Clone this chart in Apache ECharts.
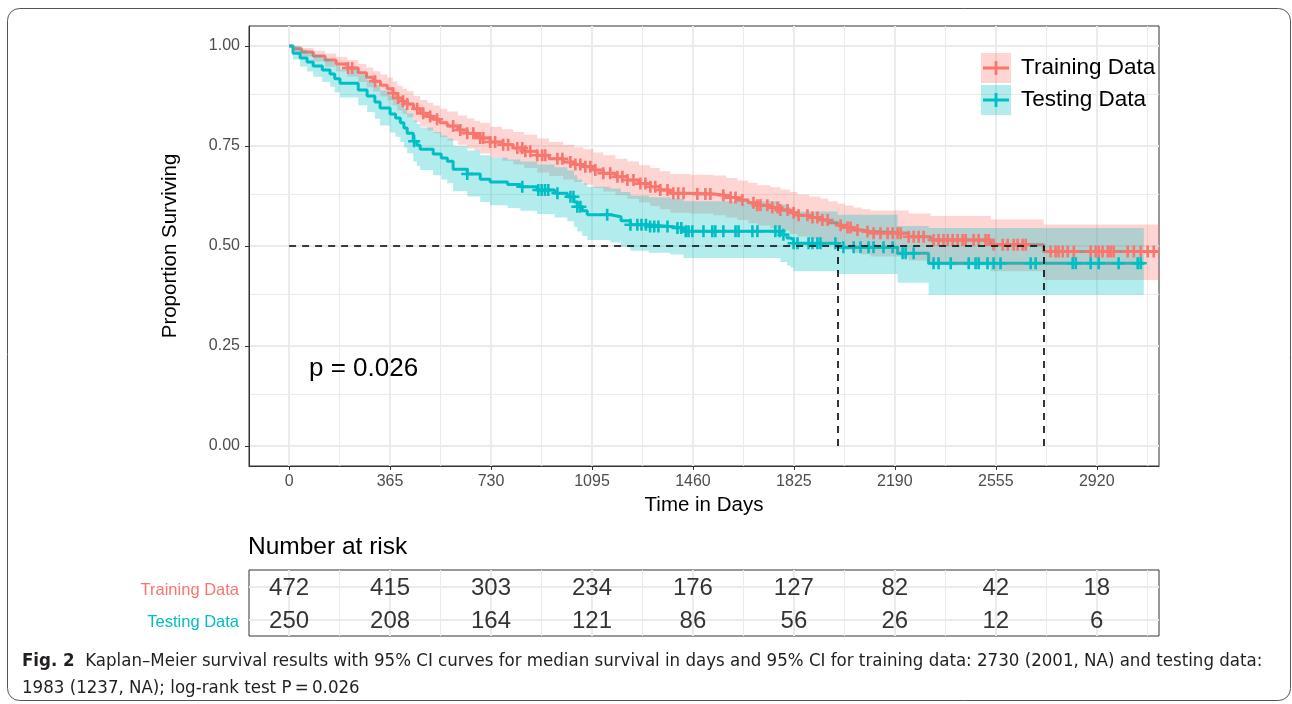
<!DOCTYPE html>
<html><head><meta charset="utf-8">
<script src="https://cdn.jsdelivr.net/npm/echarts@6/dist/echarts.min.js"></script>
<style>html,body{margin:0;padding:0;background:#fff}#c{width:1292px;height:704px}</style>
</head><body><div id="c"></div>
<script>
// ---- axis ticks ----
const xTicks = [0, 365, 730, 1095, 1460, 1825, 2190, 2555, 2920];
const xMinorTicks = [182.5, 547.5, 912.5, 1277.5, 1642.5, 2007.5, 2372.5, 2737.5, 3102.5];
const yTicks = [0, 0.25, 0.5, 0.75, 1];
const yMinorTicks = [0.125, 0.375, 0.625, 0.875];

// ---- Training Data KM curve ----
const trainTime = [0, 15, 45, 87, 130, 170, 210, 250, 280, 304, 330, 355, 375, 391, 410, 427, 450, 474, 500, 521, 545, 572, 610, 644, 670, 691, 727, 770, 810, 850, 897, 940, 991, 1030, 1064, 1100, 1136, 1180, 1223, 1265, 1306, 1340, 1378, 1450, 1534, 1580, 1621, 1660, 1693, 1740, 1776, 1810, 1838, 1880, 1921, 1950, 1983, 2010, 2041, 2070, 2102, 2240, 2319, 2536, 2728, 3145];
const trainSurv = [1.0, 0.993, 0.985, 0.975, 0.965, 0.955, 0.945, 0.933, 0.922, 0.912, 0.902, 0.893, 0.882, 0.87, 0.862, 0.855, 0.843, 0.832, 0.824, 0.817, 0.808, 0.80, 0.79, 0.782, 0.776, 0.77, 0.76, 0.753, 0.745, 0.737, 0.727, 0.718, 0.71, 0.704, 0.698, 0.69, 0.682, 0.673, 0.665, 0.656, 0.648, 0.64, 0.632, 0.63, 0.627, 0.621, 0.615, 0.608, 0.602, 0.596, 0.59, 0.583, 0.577, 0.571, 0.565, 0.558, 0.552, 0.546, 0.54, 0.536, 0.532, 0.523, 0.515, 0.503, 0.486, 0.486];
const trainUpper = [1.0, 1.0, 0.995, 0.988, 0.981, 0.973, 0.965, 0.955, 0.946, 0.937, 0.929, 0.921, 0.911, 0.900, 0.893, 0.887, 0.875, 0.865, 0.858, 0.851, 0.843, 0.836, 0.826, 0.819, 0.813, 0.808, 0.798, 0.792, 0.785, 0.778, 0.769, 0.760, 0.753, 0.747, 0.742, 0.734, 0.727, 0.718, 0.711, 0.702, 0.695, 0.687, 0.680, 0.678, 0.676, 0.670, 0.664, 0.658, 0.652, 0.647, 0.641, 0.635, 0.629, 0.624, 0.618, 0.612, 0.606, 0.601, 0.596, 0.592, 0.589, 0.581, 0.575, 0.566, 0.554, 0.554];
const trainLower = [1.0, 0.985, 0.974, 0.961, 0.948, 0.936, 0.924, 0.910, 0.897, 0.886, 0.874, 0.864, 0.852, 0.839, 0.830, 0.822, 0.810, 0.798, 0.789, 0.782, 0.772, 0.763, 0.753, 0.744, 0.738, 0.731, 0.721, 0.713, 0.704, 0.695, 0.684, 0.675, 0.666, 0.660, 0.653, 0.645, 0.636, 0.627, 0.618, 0.609, 0.600, 0.592, 0.583, 0.581, 0.577, 0.571, 0.565, 0.557, 0.551, 0.544, 0.538, 0.530, 0.524, 0.517, 0.511, 0.503, 0.497, 0.490, 0.483, 0.479, 0.474, 0.464, 0.452, 0.437, 0.415, 0.415];
const trainCensor = [213, 228, 311, 376, 394, 412, 427, 463, 485, 510, 535, 593, 619, 644, 666, 691, 702, 727, 745, 774, 792, 825, 843, 854, 872, 897, 915, 926, 970, 988, 1017, 1035, 1053, 1071, 1089, 1107, 1136, 1161, 1187, 1205, 1223, 1245, 1270, 1288, 1306, 1324, 1342, 1368, 1389, 1407, 1426, 1476, 1505, 1523, 1570, 1596, 1614, 1639, 1679, 1693, 1704, 1729, 1747, 1766, 1776, 1802, 1824, 1842, 1874, 1892, 1910, 1928, 1947, 1994, 2019, 2030, 2055, 2091, 2113, 2138, 2164, 2182, 2200, 2211, 2240, 2258, 2276, 2294, 2330, 2348, 2366, 2381, 2399, 2417, 2435, 2446, 2475, 2493, 2518, 2529, 2547, 2580, 2598, 2620, 2634, 2652, 2663, 2753, 2771, 2782, 2797, 2815, 2837, 2898, 2916, 2927, 2941, 2960, 2970, 2981, 3032, 3054, 3079, 3104, 3126];

// ---- Testing Data KM curve ----
const testTime = [0, 14, 40, 65, 87, 120, 148, 165, 184, 250, 282, 310, 329, 365, 385, 402, 415, 427, 449, 462, 474, 521, 550, 572, 593, 644, 691, 727, 790, 836, 897, 960, 1006, 1030, 1042, 1060, 1078, 1161, 1200, 1234, 1300, 1378, 1426, 1776, 1800, 1813, 1824, 1983, 2200, 2312, 3090];
const testSurv = [1.0, 0.982, 0.97, 0.96, 0.95, 0.94, 0.93, 0.918, 0.907, 0.89, 0.875, 0.86, 0.845, 0.83, 0.82, 0.808, 0.795, 0.782, 0.762, 0.752, 0.742, 0.73, 0.72, 0.712, 0.692, 0.68, 0.667, 0.66, 0.654, 0.648, 0.64, 0.632, 0.623, 0.61, 0.598, 0.588, 0.578, 0.573, 0.563, 0.553, 0.549, 0.545, 0.537, 0.528, 0.52, 0.515, 0.507, 0.497, 0.482, 0.457, 0.457];
const testUpper = [1.0, 1.0, 0.991, 0.984, 0.977, 0.969, 0.961, 0.951, 0.942, 0.928, 0.915, 0.902, 0.889, 0.876, 0.867, 0.856, 0.844, 0.832, 0.814, 0.805, 0.796, 0.785, 0.776, 0.769, 0.750, 0.739, 0.727, 0.721, 0.716, 0.711, 0.704, 0.697, 0.689, 0.677, 0.666, 0.657, 0.648, 0.644, 0.635, 0.626, 0.622, 0.619, 0.612, 0.604, 0.597, 0.593, 0.586, 0.578, 0.550, 0.545, 0.545];
const testLower = [1.0, 0.966, 0.949, 0.936, 0.923, 0.910, 0.898, 0.884, 0.871, 0.852, 0.835, 0.818, 0.801, 0.784, 0.773, 0.760, 0.746, 0.732, 0.711, 0.700, 0.690, 0.677, 0.666, 0.657, 0.637, 0.624, 0.610, 0.602, 0.595, 0.588, 0.580, 0.571, 0.562, 0.548, 0.536, 0.525, 0.515, 0.509, 0.498, 0.488, 0.483, 0.479, 0.470, 0.460, 0.451, 0.446, 0.437, 0.430, 0.408, 0.378, 0.378];
const testCensor = [452, 644, 843, 901, 913, 925, 937, 970, 1017, 1028, 1042, 1053, 1150, 1234, 1259, 1274, 1290, 1305, 1320, 1335, 1368, 1404, 1418, 1434, 1444, 1458, 1498, 1530, 1541, 1570, 1614, 1625, 1675, 1693, 1758, 1773, 1787, 1824, 1838, 1878, 1892, 1910, 1921, 1975, 2004, 2041, 2066, 2095, 2113, 2149, 2182, 2218, 2229, 2258, 2330, 2348, 2392, 2457, 2482, 2493, 2525, 2547, 2572, 2681, 2699, 2833, 2844, 2898, 2927, 2999, 3068, 3079];

// ---- medians ----
const medianTrain = 2730;
const medianTest = 1983;
const medianLevel = 0.5;

// ---- number at risk ----
const riskRows = ['Testing Data', 'Training Data'];
const riskTimes = [0, 365, 730, 1095, 1460, 1825, 2190, 2555, 2920];
const riskTrain = [472, 415, 303, 234, 176, 127, 82, 42, 18];
const riskTest = [250, 208, 164, 121, 86, 56, 26, 12, 6];

const RED = '#F8766D', TEAL = '#00BFC4';
const RED_FILL = 'rgba(248,118,109,0.3)', TEAL_FILL = 'rgba(0,191,196,0.3)';
const FONT = '"Liberation Sans", Arial, Helvetica, sans-serif';
const CAPFONT = '"Liberation Sans Narrow", "DejaVu Sans Condensed", "Liberation Sans", sans-serif';
const PLUS = 'path://M0 4.7H12V7.3H0Z M4.7 0H7.3V12H4.7Z';
const LEG_PLUS = 'path://M0 0L0.01 0L0 0.01Z M30 30L29.99 30L30 29.99Z M2 13.4H28V16.6H2Z M13.6 8H16.4V22H13.6Z';

function survAt(times, surv, t) {
  let v = surv[0];
  for (let i = 0; i < times.length; i++) { if (times[i] <= t) v = surv[i]; else break; }
  return v;
}
function zip3(a, b, c) { return a.map((v, i) => [v, b[i], c[i]]); }

function bandRender(color) {
  return function (params, api) {
    if (params.dataIndexInside !== 0) return null;
    const n = params.dataInsideLength;
    const pts = [];
    for (let j = 0; j < n - 1; j++) {
      pts.push(api.coord([api.value(0, j), api.value(2, j)]));
      pts.push(api.coord([api.value(0, j + 1), api.value(2, j)]));
    }
    for (let j = n - 2; j >= 0; j--) {
      pts.push(api.coord([api.value(0, j + 1), api.value(1, j)]));
      pts.push(api.coord([api.value(0, j), api.value(1, j)]));
    }
    return { type: 'polygon', shape: { points: pts }, style: { fill: color } };
  };
}

const majorStyle = { color: '#EBEBEB', width: 2, type: 'solid' };
const minorStyle = { color: '#EBEBEB', width: 1, type: 'solid' };
function vLines(arr, st) { return arr.map(v => ({ xAxis: v, lineStyle: st })); }
function hLines(arr, st) { return arr.map(v => ({ yAxis: v, lineStyle: st })); }

const chart = echarts.init(document.getElementById('c'), null, { renderer: 'canvas' });
const option = {
  animation: false,
  backgroundColor: '#fff',
  textStyle: { fontFamily: FONT },
  title: {
    text: 'Number at risk', left: 248, top: 535, padding: 0,
    textStyle: { fontSize: 24.5, fontWeight: 'normal', color: '#000', fontFamily: FONT }
  },
  legend: [
    {
      left: 981, top: 53, orient: 'vertical', padding: 0, itemWidth: 30, itemHeight: 30, itemGap: 2,
      selectedMode: false, z: 10,
      formatter: n => n.replace(' CI', ''),
      textStyle: { fontSize: 22.5, color: '#000', fontFamily: FONT, padding: [0, 0, 0, 5] },
      data: [
        { name: 'Training Data CI', icon: 'rect', itemStyle: { color: RED_FILL, borderWidth: 0 } },
        { name: 'Testing Data CI', icon: 'rect', itemStyle: { color: TEAL_FILL, borderWidth: 0 } }
      ]
    },
    {
      left: 981, top: 53, orient: 'vertical', padding: 0, itemWidth: 30, itemHeight: 30, itemGap: 2,
      selectedMode: false, z: 11,
      textStyle: { fontSize: 22.5, color: 'rgba(0,0,0,0)', fontFamily: FONT, padding: [0, 0, 0, 5] },
      data: [
        { name: 'Training Data', icon: LEG_PLUS, itemStyle: { color: RED, borderWidth: 0 } },
        { name: 'Testing Data', icon: LEG_PLUS, itemStyle: { color: TEAL, borderWidth: 0 } }
      ]
    }
  ],
  grid: [
    { left: 249, top: 26, width: 910, height: 440, show: true, borderColor: '#333', borderWidth: 1, backgroundColor: 'transparent' },
    { left: 249, top: 570, width: 910, height: 66, show: true, borderColor: '#333', borderWidth: 1, backgroundColor: 'transparent' }
  ],
  xAxis: [
    {
      type: 'value', gridIndex: 0, min: -145, max: 3145,
      name: 'Time in Days', nameLocation: 'middle', nameGap: 29,
      nameTextStyle: { fontSize: 20.5, color: '#000', fontFamily: FONT },
      axisLine: { show: true, onZero: false, lineStyle: { color: '#333', width: 1 } },
      axisTick: { show: true, length: 4, customValues: xTicks, lineStyle: { color: '#333', width: 1 } },
      axisLabel: { customValues: xTicks, fontSize: 16, color: '#4D4D4D', margin: 8, formatter: v => String(v) },
      splitLine: { show: false }
    },
    {
      type: 'value', gridIndex: 1, min: -145, max: 3145, show: false,
      axisLine: { onZero: false },
      splitLine: { show: false }
    }
  ],
  yAxis: [
    {
      type: 'value', gridIndex: 0, min: -0.05, max: 1.05,
      name: 'Proportion Surviving', nameLocation: 'middle', nameGap: 68, nameRotate: 90,
      nameTextStyle: { fontSize: 20.5, color: '#000', fontFamily: FONT },
      axisLine: { show: true, onZero: false, lineStyle: { color: '#333', width: 1 } },
      axisTick: { show: true, length: 4, customValues: yTicks, lineStyle: { color: '#333', width: 1 } },
      axisLabel: { customValues: yTicks, fontSize: 16, color: '#4D4D4D', margin: 9, formatter: v => v.toFixed(2) },
      splitLine: { show: false }
    },
    {
      type: 'category', gridIndex: 1, data: riskRows,
      axisLine: { show: false, onZero: false }, axisTick: { show: false }, splitLine: { show: false },
      axisLabel: {
        margin: 10,
        formatter: v => (v === 'Training Data' ? '{r|' : '{t|') + v + '}',
        rich: {
          r: { fontSize: 16.5, color: RED, padding: [7, 0, 0, 0], fontFamily: FONT },
          t: { fontSize: 16.5, color: TEAL, padding: [5, 0, 0, 0], fontFamily: FONT }
        }
      }
    }
  ],
  series: [
    {
      name: 'grid0', type: 'line', xAxisIndex: 0, yAxisIndex: 0, data: [], silent: true, z: 0,
      markLine: {
        silent: true, symbol: ['none', 'none'], label: { show: false }, animation: false, z: 0,
        data: [].concat(vLines(xMinorTicks, minorStyle), hLines(yMinorTicks, minorStyle), vLines(xTicks, majorStyle), hLines(yTicks, majorStyle))
      }
    },
    {
      name: 'grid1', type: 'line', xAxisIndex: 1, yAxisIndex: 1, data: [], silent: true, z: 0,
      markLine: {
        silent: true, symbol: ['none', 'none'], label: { show: false }, animation: false, z: 0,
        data: [].concat(vLines(xMinorTicks, minorStyle), vLines(xTicks, majorStyle), riskRows.map((r, i) => ({ yAxis: i, lineStyle: majorStyle })))
      }
    },
    {
      name: 'Training Data', type: 'line', step: 'end', xAxisIndex: 0, yAxisIndex: 0, z: 1,
      showSymbol: false, symbol: 'none', color: RED,
      lineStyle: { color: RED, width: 3 },
      data: trainTime.map((t, i) => [t, trainSurv[i]])
    },
    {
      name: 'Testing Data', type: 'line', step: 'end', xAxisIndex: 0, yAxisIndex: 0, z: 1,
      showSymbol: false, symbol: 'none', color: TEAL,
      lineStyle: { color: TEAL, width: 3 },
      data: testTime.map((t, i) => [t, testSurv[i]])
    },
    {
      name: 'Training Data CI', type: 'custom', xAxisIndex: 0, yAxisIndex: 0, z: 2, silent: true,
      color: RED_FILL, encode: { x: 0, y: [1, 2] },
      renderItem: bandRender(RED_FILL),
      data: zip3(trainTime, trainLower, trainUpper)
    },
    {
      name: 'Testing Data CI', type: 'custom', xAxisIndex: 0, yAxisIndex: 0, z: 2, silent: true,
      color: TEAL_FILL, encode: { x: 0, y: [1, 2] },
      renderItem: bandRender(TEAL_FILL),
      data: zip3(testTime, testLower, testUpper)
    },
    {
      name: 'Training censor', type: 'scatter', xAxisIndex: 0, yAxisIndex: 0, z: 3, silent: true,
      symbol: PLUS, symbolSize: 12, itemStyle: { color: RED, opacity: 1 },
      data: trainCensor.map(t => [t, survAt(trainTime, trainSurv, t)])
    },
    {
      name: 'Testing censor', type: 'scatter', xAxisIndex: 0, yAxisIndex: 0, z: 3, silent: true,
      symbol: PLUS, symbolSize: 12, itemStyle: { color: TEAL, opacity: 1 },
      data: testCensor.map(t => [t, survAt(testTime, testSurv, t)])
    },
    {
      name: 'median', type: 'line', xAxisIndex: 0, yAxisIndex: 0, data: [], z: 4, silent: true,
      markLine: {
        silent: true, symbol: ['none', 'none'], label: { show: false }, animation: false, z: 4,
        lineStyle: { color: '#000', width: 1.6, type: [7, 6] },
        data: [
          [{ coord: [0, medianLevel] }, { coord: [medianTrain, medianLevel] }],
          [{ coord: [medianTest, 0] }, { coord: [medianTest, medianLevel] }],
          [{ coord: [medianTrain, 0] }, { coord: [medianTrain, medianLevel] }]
        ]
      }
    },
    {
      name: 'risk', type: 'scatter', xAxisIndex: 1, yAxisIndex: 1, z: 3, silent: true,
      symbol: 'circle', symbolSize: 1, itemStyle: { color: 'rgba(0,0,0,0)' },
      label: { show: true, position: 'inside', offset: [0, 2], formatter: p => String(p.value[2]), fontSize: 24, color: '#000', fontFamily: FONT },
      data: [].concat(
        riskTimes.map((t, i) => [t, 'Training Data', riskTrain[i]]),
        riskTimes.map((t, i) => [t, 'Testing Data', riskTest[i]])
      )
    }
  ],
  graphic: [
    {
      type: 'rect', silent: true, z: -1,
      shape: { x: 7.5, y: 8.5, width: 1283, height: 692, r: 12 },
      style: { fill: 'none', stroke: '#555', lineWidth: 1 }
    },
    {
      type: 'text', left: 309, top: 356, silent: true, z: 10,
      style: { text: 'p = 0.026', fontSize: 26, fill: '#000', font: '26px ' + FONT }
    },
    {
      type: 'text', left: 22, top: 652, silent: true,
      style: {
        text: '{b|Fig. 2}  Kaplan\u2013Meier survival results with 95% CI curves for median survival in days and 95% CI for training data: 2730 (2001, NA) and testing data:',
        fontFamily: CAPFONT, fontSize: 18.5, fill: '#231F20',
        rich: { b: { fontWeight: 'bold', fontFamily: CAPFONT, fontSize: 18.5, fill: '#231F20' } }
      }
    },
    {
      type: 'text', left: 22, top: 679, silent: true,
      style: { text: '1983 (1237, NA); log-rank test P\u2009=\u20090.026', fontFamily: CAPFONT, fontSize: 18.5, fill: '#231F20' }
    }
  ]
};
chart.setOption(option);
</script></body></html>
